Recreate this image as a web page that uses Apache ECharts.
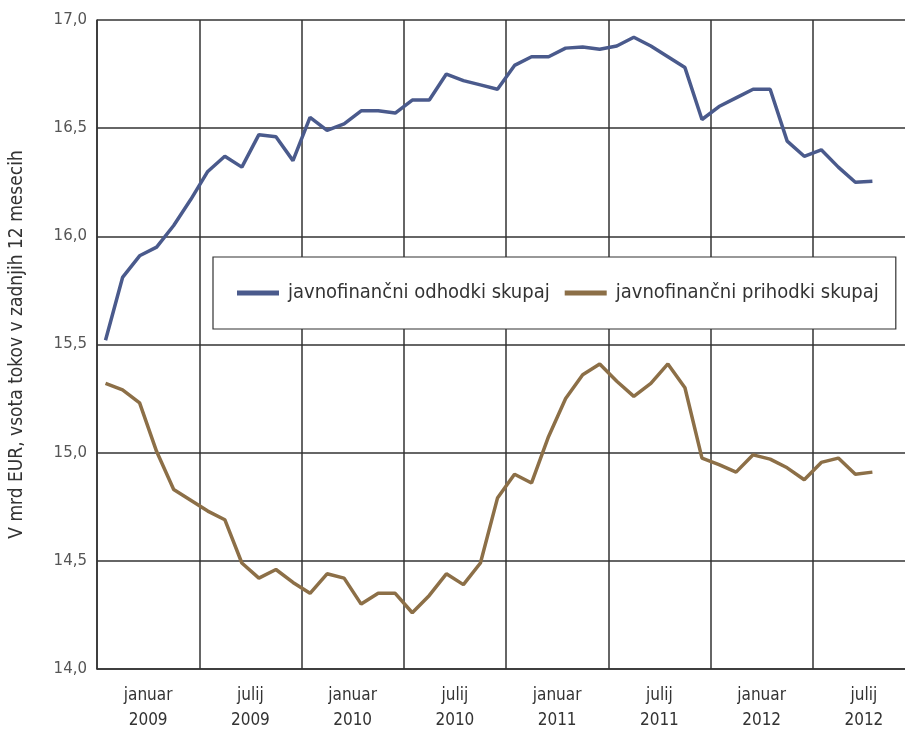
<!DOCTYPE html>
<html>
<head>
<meta charset="utf-8">
<script src="https://cdn.jsdelivr.net/npm/echarts@6/dist/echarts.min.js"></script>
<style>
html, body { margin: 0; padding: 0; background: #fff; }
#container { width: 905px; height: 729px; }
</style>
</head>
<body>
<div id="container"></div>
<script>
// monthly points, januar 2009 .. oktober 2012 (last two months of 2012 empty)
var months = [];
for (var y = 2009; y <= 2012; y++) {
    for (var m = 1; m <= 12; m++) {
        months.push(y + '-' + (m < 10 ? '0' + m : m));
    }
}
var halfYears = ['januar\n2009', 'julij\n2009', 'januar\n2010', 'julij\n2010',
    'januar\n2011', 'julij\n2011', 'januar\n2012', 'julij\n2012'];

var odhodki = [15.52, 15.81, 15.91, 15.95, 16.05, 16.17, 16.30, 16.37, 16.32, 16.47,
    16.46, 16.35, 16.55, 16.49, 16.52, 16.58, 16.58, 16.57, 16.63, 16.63,
    16.75, 16.72, 16.70, 16.68, 16.79, 16.83, 16.83, 16.87, 16.875, 16.865,
    16.88, 16.92, 16.88, 16.83, 16.78, 16.54, 16.60, 16.64, 16.68, 16.68,
    16.44, 16.37, 16.40, 16.32, 16.25, 16.255];
var prihodki = [15.32, 15.29, 15.23, 15.005, 14.83, 14.78, 14.73, 14.69, 14.49, 14.42,
    14.46, 14.40, 14.35, 14.44, 14.42, 14.30, 14.35, 14.35, 14.26, 14.34,
    14.44, 14.39, 14.49, 14.79, 14.90, 14.86, 15.075, 15.25, 15.36, 15.41,
    15.33, 15.26, 15.32, 15.41, 15.30, 14.975, 14.945, 14.91, 14.99, 14.97,
    14.93, 14.875, 14.955, 14.975, 14.90, 14.91];

var blue = '#4a5a8c';
var brown = '#8c6f47';
var gridColor = '#333333';
var narrow = 'DejaVu Sans Condensed, sans-serif';

var myChart = echarts.init(document.getElementById('container'));

var option = {
    animation: false,
    backgroundColor: '#ffffff',
    grid: {
        left: 97,
        right: -10,
        top: 20,
        bottom: 60,
        outerBoundsMode: 'none',
        containLabel: false
    },
    legend: {
        left: 213,
        top: 257,
        padding: [26, 17, 26, 24],
        itemGap: 15,
        itemWidth: 42,
        itemHeight: 5,
        icon: 'rect',
        borderColor: '#333',
        borderWidth: 1.2,
        backgroundColor: '#fff',
        textStyle: {
            fontFamily: narrow,
            fontSize: 20,
            color: '#333',
            padding: [0, 0, 0, 4]
        },
        data: ['javnofinančni odhodki skupaj', 'javnofinančni prihodki skupaj']
    },
    xAxis: [
        {
            type: 'category',
            data: months,
            boundaryGap: true,
            show: false
        },
        {
            type: 'category',
            data: halfYears,
            boundaryGap: true,
            position: 'bottom',
            axisLine: { show: true, lineStyle: { color: gridColor, width: 1.5 } },
            axisTick: { show: false },
            splitLine: { show: true, lineStyle: { color: gridColor, width: 1.5 } },
            axisLabel: {
                margin: 14,
                lineHeight: 25,
                fontFamily: narrow,
                fontSize: 17,
                color: '#333'
            }
        }
    ],
    yAxis: {
        type: 'value',
        min: 14,
        max: 17,
        interval: 0.5,
        name: 'V mrd EUR, vsota tokov v zadnjih 12 mesecih',
        nameLocation: 'middle',
        nameGap: 70,
        nameTextStyle: {
            fontFamily: narrow,
            fontSize: 19,
            color: '#333'
        },
        axisLine: { show: true, lineStyle: { color: gridColor, width: 1.5 } },
        axisTick: { show: false },
        splitLine: { lineStyle: { color: gridColor, width: 1.5 } },
        axisLabel: {
            margin: 10,
            fontFamily: 'DejaVu Sans, sans-serif',
            fontSize: 15,
            color: '#555',
            formatter: function (v) {
                return v.toFixed(1).replace('.', ',');
            }
        }
    },
    series: [
        {
            name: 'javnofinančni odhodki skupaj',
            type: 'line',
            xAxisIndex: 0,
            data: odhodki,
            symbol: 'none',
            itemStyle: { color: blue },
            lineStyle: { color: blue, width: 3.5 }
        },
        {
            name: 'javnofinančni prihodki skupaj',
            type: 'line',
            xAxisIndex: 0,
            data: prihodki,
            symbol: 'none',
            itemStyle: { color: brown },
            lineStyle: { color: brown, width: 3.5 }
        }
    ]
};
myChart.setOption(option);
</script>
</body>
</html>
